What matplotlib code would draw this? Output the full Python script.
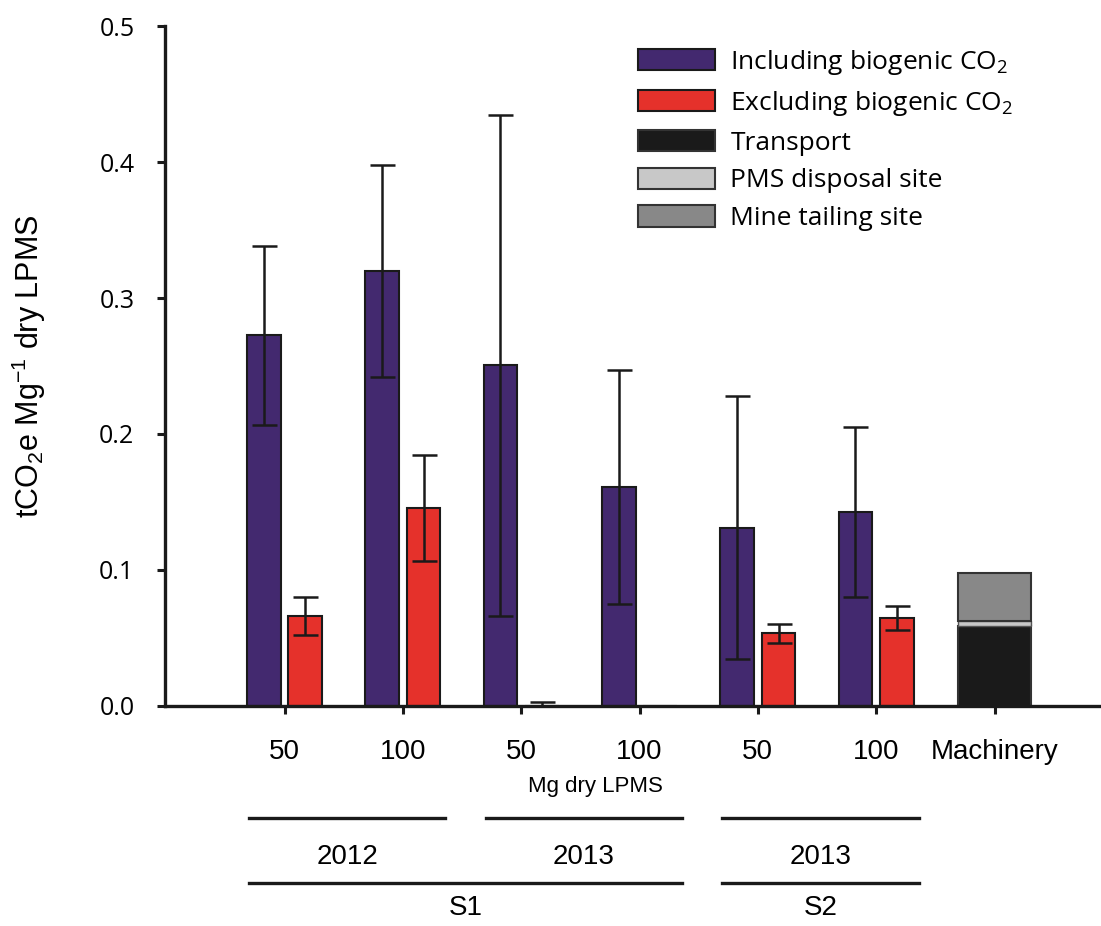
import numpy as np
import matplotlib
matplotlib.use("Agg")
import matplotlib.pyplot as plt
from matplotlib.patches import Patch

plt.rcParams['font.family'] = ['Open Sans', 'DejaVu Sans']
plt.rcParams['mathtext.fontset'] = 'custom'
plt.rcParams['mathtext.rm'] = 'Open Sans'

# treatments: application rate (Mg dry LPMS)
groups = ["50", "100", "50", "100", "50", "100"]
incl_mean = [0.2726, 0.3196, 0.2505, 0.1607, 0.1311, 0.1426]
incl_err = [0.066, 0.078, 0.184, 0.086, 0.0968, 0.0627]
excl_mean = [0.0662, 0.1456, 0.0, np.nan, 0.0534, 0.0647]
excl_err = [0.014, 0.039, 0.003, np.nan, 0.0069, 0.0088]

# machinery emissions, stacked
transport = 0.0588
pms_site = 0.0040
mine_site = 0.0352

tick_labels = groups + ["Machinery"]

purple = "#43296f"
red = "#e5312b"

fig = plt.figure(figsize=(11.01, 9.26), dpi=100)
ax = fig.add_axes([0.1499, 0.2376, 0.8501, 0.7343])

x = np.arange(len(groups))
w = 0.285
off = 0.175

ax.bar(x - off, incl_mean, w, color=purple, edgecolor="#1a1a1a", linewidth=1.5, zorder=2)
ax.errorbar(x - off, incl_mean, yerr=incl_err, fmt="none", ecolor="#1a1a1a",
            elinewidth=1.8, capsize=9, capthick=1.8, zorder=3)

ex = np.array(excl_mean)
ee = np.array(excl_err)
ax.bar(x + off, np.nan_to_num(ex), w, color=red, edgecolor="#1a1a1a", linewidth=1.5, zorder=2)
ok = ~np.isnan(ex)
lower = np.minimum(ee[ok], ex[ok])
ax.errorbar((x + off)[ok], ex[ok], yerr=[lower, ee[ok]], fmt="none", ecolor="#1a1a1a",
            elinewidth=1.8, capsize=9, capthick=1.8, zorder=3)

# machinery stacked bar
mx = len(groups)
mw = 0.61
ax.bar(mx, transport, mw, color="#1a1a1a", edgecolor="#333333", linewidth=1.5, zorder=2)
ax.bar(mx, pms_site, mw, bottom=transport, color="#c8c8c8", edgecolor="#555555", linewidth=1.0, zorder=2)
ax.bar(mx, mine_site, mw, bottom=transport + pms_site, color="#888888", edgecolor="#333333", linewidth=1.5, zorder=2)

ax.set_xlim(-1.01, 6.9)
ax.set_ylim(0, 0.5)
ax.set_yticks([0, 0.1, 0.2, 0.3, 0.4, 0.5])
ax.set_yticklabels(["0.0", "0.1", "0.2", "0.3", "0.4", "0.5"], fontsize=18)
ax.set_xticks(np.arange(len(tick_labels)))
ax.set_xticklabels(tick_labels, fontsize=20, family="Liberation Sans")

for s in ["top", "right"]:
    ax.spines[s].set_visible(False)
for s in ["left", "bottom"]:
    ax.spines[s].set_linewidth(2.4)
    ax.spines[s].set_color("#1a1a1a")
ax.tick_params(axis="both", direction="out", length=6, width=2.2, color="#1a1a1a")
ax.tick_params(axis="x", pad=18)
ax.tick_params(axis="y", pad=16)

plt.rcParams['mathtext.rm'] = 'Liberation Sans'
ax.set_ylabel(r"tCO$_\mathregular{2}$e Mg$^\mathregular{-1}$ dry LPMS", fontsize=22,
              family="Liberation Sans")
ax.yaxis.set_label_coords(-0.125, 0.5)

# x grouping annotations below the axis
tr = ax.get_xaxis_transform()
ax.text(2.63, -0.118, "Mg dry LPMS", transform=tr, ha="center", va="center",
        fontsize=16, family="Liberation Sans")

year_spans = [(-0.3, 1.36, "2012"), (1.7, 3.36, "2013"), (3.7, 5.36, "2013")]
site_spans = [(-0.3, 3.36, "S1"), (3.7, 5.36, "S2")]
for a, b, lab in year_spans:
    ax.plot([a, b], [-0.165, -0.165], transform=tr, color="#1a1a1a", lw=2.4, clip_on=False)
    ax.text((a + b) / 2, -0.222, lab, transform=tr, ha="center", va="center",
            fontsize=20, family="Liberation Sans")
for a, b, lab in site_spans:
    ax.plot([a, b], [-0.26, -0.26], transform=tr, color="#1a1a1a", lw=2.4, clip_on=False)
    ax.text((a + b) / 2, -0.297, lab, transform=tr, ha="center", va="center",
            fontsize=20, family="Liberation Sans")

handles = [
    Patch(facecolor=purple, edgecolor="#1a1a1a", linewidth=1.5),
    Patch(facecolor=red, edgecolor="#1a1a1a", linewidth=1.5),
    Patch(facecolor="#1a1a1a", edgecolor="#333333", linewidth=1.5),
    Patch(facecolor="#c8c8c8", edgecolor="#333333", linewidth=1.5),
    Patch(facecolor="#888888", edgecolor="#333333", linewidth=1.5),
]
labels = [
    r"Including biogenic CO$_\mathregular{2}$",
    r"Excluding biogenic CO$_\mathregular{2}$",
    "Transport",
    "PMS disposal site",
    "Mine tailing site",
]
plt.rcParams['mathtext.rm'] = 'Open Sans'
fig.legend(handles, labels, loc="upper left", bbox_to_anchor=(0.570, 0.960),
           frameon=False, fontsize=19, handlelength=2.9, handleheight=0.85,
           handletextpad=0.6, labelspacing=0.46, borderaxespad=0)

fig.savefig("out.png", dpi=100)
